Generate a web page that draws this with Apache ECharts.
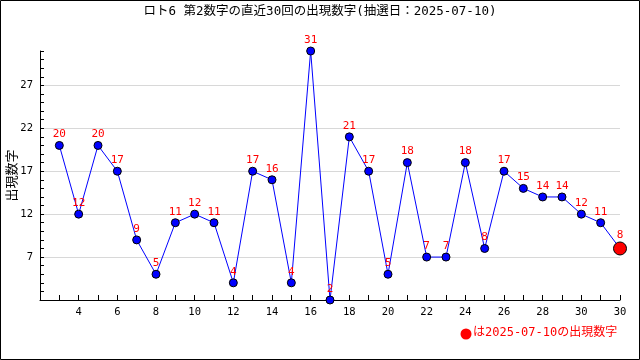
<!DOCTYPE html>
<html>
<head>
<meta charset="utf-8">
<script src="https://cdn.jsdelivr.net/npm/echarts@6/dist/echarts.min.js"></script>
<style>html,body{margin:0;padding:0;background:#fff;}#c{width:640px;height:360px;}</style>
</head>
<body>
<div id="c"></div>
<script>
var titleText = 'ロト6 第2数字の直近30回の出現数字(抽選日：2025-07-10)';
var yAxisName = '出現数字';
var legendText = 'は2025-07-10の出現数字';
var drawIndex = [1,2,3,4,5,6,7,8,9,10,11,12,13,14,15,16,17,18,19,20,21,22,23,24,25,26,27,28,29,30];
var numbers = [20,12,20,17,9,5,11,12,11,4,17,16,4,31,2,21,17,5,18,7,7,18,8,17,15,14,14,12,11,8];
var xTickPositions = [2,4,6,8,10,12,14,16,18,20,22,24,26,28,30];
var xTickLabels = ['4','6','8','10','12','14','16','18','20','22','24','26','28','30','30'];
var yTickLabels = [7,12,17,22,27];

var font = '"DejaVu Sans Mono", "Noto Sans CJK JP", monospace';
var data = drawIndex.map(function(x, i){
  var last = i === drawIndex.length - 1;
  return {
    value: [x, numbers[i]],
    symbolSize: last ? 13 : 8,
    itemStyle: last ? {color: '#ff0000', borderColor: '#000', borderWidth: 1} : {color: '#0000ff', borderColor: '#000', borderWidth: 1}
  };
});

var chart = echarts.init(document.getElementById('c'), null, {renderer: 'canvas'});
chart.setOption({
  animation: false,
  backgroundColor: '#fff',
  title: {
    text: titleText, left: 'center', top: 0,
    textStyle: {fontFamily: font, fontSize: 12.5, fontWeight: 'normal', color: '#000'}
  },
  grid: {left: 40, right: 20, top: 51, bottom: 60, outerBoundsMode: 'none', containLabel: false},
  xAxis: {
    type: 'value', min: 0, max: 30, interval: 1,
    axisLine: {show: true, lineStyle: {color: '#000', width: 1}},
    axisTick: {show: true, inside: true, length: 5, lineStyle: {color: '#000'}},
    splitLine: {show: false},
    axisLabel: {
      margin: 7, color: '#000', fontFamily: font, fontSize: 10.5,
      formatter: function(v){
        var k = xTickPositions.indexOf(v);
        return k >= 0 ? xTickLabels[k] : '';
      }
    }
  },
  yAxis: {
    type: 'value', min: 2, max: 31, interval: 1,
    name: yAxisName, nameLocation: 'middle', nameGap: 22, nameRotate: 90, nameMoveOverlap: false,
    nameTextStyle: {fontFamily: '"Noto Sans CJK JP", sans-serif', fontSize: 13, color: '#000'},
    axisLine: {show: true, lineStyle: {color: '#000', width: 1}},
    axisTick: {show: true, inside: true, length: 4, lineStyle: {color: '#000'}},
    splitLine: {show: true, lineStyle: {color: ['#d8d8d8','rgba(0,0,0,0)','rgba(0,0,0,0)','rgba(0,0,0,0)','rgba(0,0,0,0)'], width: 1}},
    axisLabel: {
      margin: 7, color: '#000', fontFamily: font, fontSize: 10.5,
      formatter: function(v){ return yTickLabels.indexOf(v) >= 0 ? String(v) : ''; }
    }
  },
  series: [{
    type: 'line',
    data: data,
    symbol: 'circle',
    lineStyle: {color: '#0000ff', width: 1},
    label: {show: true, position: 'top', distance: 1, color: '#ff0000', fontFamily: font, fontSize: 11,
      formatter: function(p){ return p.value[1]; }}
  }],
  graphic: [
    {type: 'rect', shape: {x: 0.5, y: 0.5, width: 639, height: 359}, style: {fill: 'none', stroke: '#000', lineWidth: 1}, z: 100},
    {type: 'circle', shape: {cx: 466, cy: 334, r: 5.5}, style: {fill: '#ff0000'}},
    {type: 'text', left: 473, top: 327, style: {text: legendText, fill: '#ff0000', font: '12px ' + font}}
  ]
});
</script>
</body>
</html>
